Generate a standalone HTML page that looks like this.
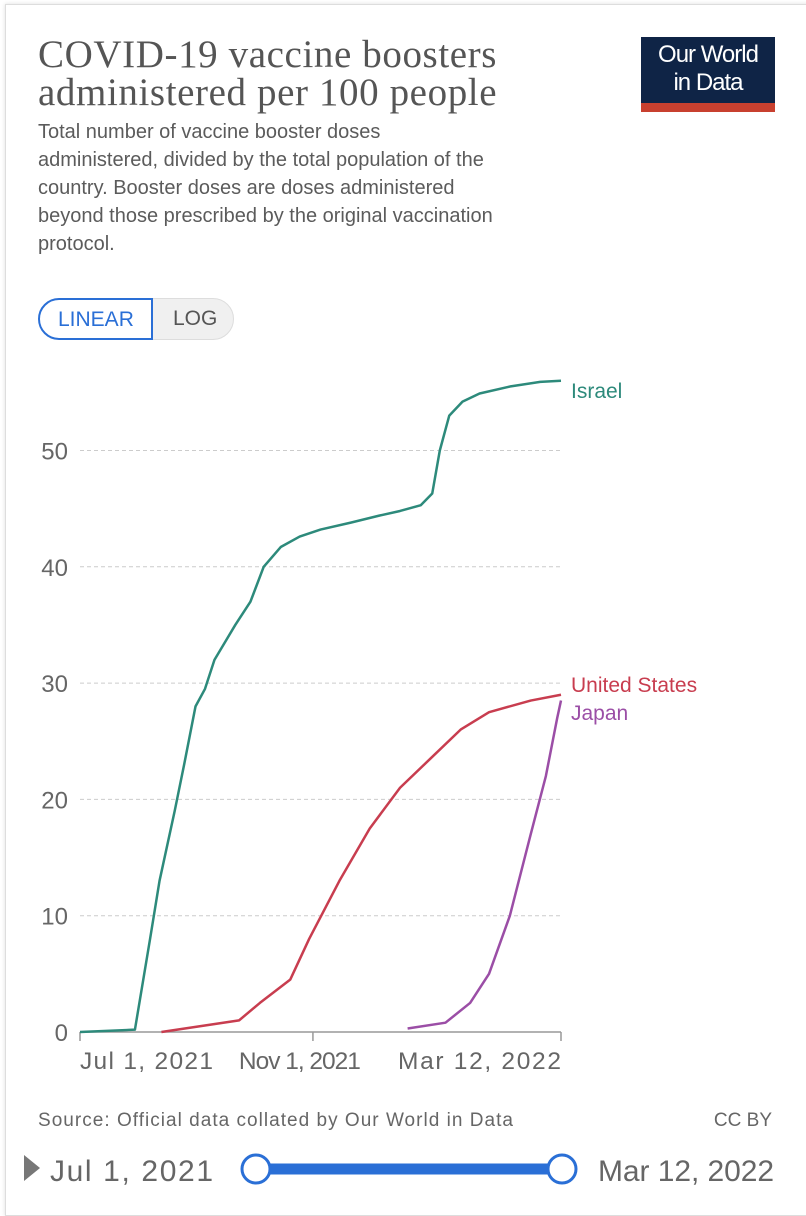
<!DOCTYPE html>
<html><head><meta charset="utf-8"><style>
body{margin:0;width:806px;height:1200px;background:#fff;font-family:"Liberation Sans",sans-serif;overflow:hidden;position:relative}
.card{position:absolute;left:5px;top:4px;width:820px;height:1210px;border:1px solid #ddd;box-shadow:0 0 4px #ddd}
.t{position:absolute;left:38px;top:36px;font-family:"Liberation Serif",serif;font-size:39px;line-height:38px;color:#555;letter-spacing:0.6px;white-space:nowrap}
.s{position:absolute;left:38px;top:118px;font-size:20px;line-height:28px;color:#5b5b5b;white-space:nowrap}
.logo{position:absolute;left:641px;top:37px;width:134px;background:#0f2446;color:#fff;font-size:24px;line-height:28px;text-align:center;padding-top:4px;box-sizing:border-box;border-bottom:9px solid #c8402f;height:75px;letter-spacing:-1px}
.tog{position:absolute;top:298px;height:42px;font-size:21px;line-height:40px;box-sizing:border-box}
</style></head><body>
<div class="card"></div>
<div class="t">COVID-19 vaccine boosters<br>administered per 100 people</div>
<div class="s">Total number of vaccine booster doses<br>administered, divided by the total population of the<br>country. Booster doses are doses administered<br>beyond those prescribed by the original vaccination<br>protocol.</div>
<div class="logo">Our World<br>in Data</div>
<div class="tog" style="left:140px;width:94px;background:#f0f0f0;border:1px solid #ddd;border-radius:0 21px 21px 0;color:#555;padding-left:32px">LOG</div>
<div class="tog" style="left:38px;width:115px;border:2px solid #2a6fd6;border-radius:21px 0 0 21px;color:#2a6fd6;background:#fff;padding-left:18px">LINEAR</div>
<svg id="c" width="806" height="1200" style="position:absolute;left:0;top:0"></svg>
<script>
const yTicks=[0,10,20,30,40,50];
const israelDays=[0,29,37,42,50,55,61,66,71,82,90,97,106,116,127,143,158,169,180,186,190,195,202,211,227,243,254];
const israelVals=[0,0.2,8,13,19,23,28,29.5,32,35,37,40,41.7,42.6,43.2,43.8,44.4,44.8,45.3,46.3,50,53,54.2,54.9,55.5,55.9,56];
const usDays=[43,84,95,111,121,137,153,169,185,201,216,238,254];
const usVals=[0,1,2.5,4.5,8,13,17.5,21,23.5,26,27.5,28.5,29];
const japanDays=[173,193,206,216,227,238,246,252,254];
const japanVals=[0.3,0.8,2.5,5,10,17,22,27,28.5];
const xTickDays=[0,123,254];
const xTickLabels=["Jul 1, 2021","Nov 1, 2021","Mar 12, 2022"];
const X=d=>80+d*481/254, Y=v=>1032-v*11.63;
const svg=document.getElementById('c'),NS="http://www.w3.org/2000/svg";
function mk(t,a,txt){const e=document.createElementNS(NS,t);for(const k in a)e.setAttribute(k,a[k]);if(txt!==undefined)e.textContent=txt;svg.appendChild(e);return e;}
yTicks.forEach(v=>{
 if(v>0){const g=mk('line',{x1:80,x2:561,y1:Y(v),y2:Y(v),stroke:'#ccc','stroke-dasharray':'4,3'});
 
 }
 const t=mk('text',{x:68,y:Y(v)+9,'text-anchor':'end','font-size':24,fill:'#666'},v);
 
 
});
const ax=mk('line',{x1:80,x2:561,y1:1032,y2:1032,stroke:'#999','stroke-width':1.5});


xTickDays.forEach((d,i)=>{
 const tk=mk('line',{x1:X(d),x2:X(d),y1:1032,y2:1041,stroke:'#999','stroke-width':1.5});
 
 
 const anc=i==0?'start':i==2?'end':'middle';
 const t=mk('text',{x:i==1?X(d)-13:X(d),y:1069,'text-anchor':anc,'font-size':24.5,fill:'#666',textLength:i==0?133:i==1?122:163},xTickLabels[i]);
 
 
});
function series(days,vals,col,name,label,ly){
 const p=mk('polyline',{points:days.map((d,i)=>X(d)+','+Y(vals[i])).join(' '),fill:'none',stroke:col,'stroke-width':2.5,'stroke-linejoin':'round'});
 
 
 const t=mk('text',{x:571,y:ly,'font-size':21,fill:col},label);
 
 
}
series(israelDays,israelVals,'#2d8a7b','israel','Israel',398);
series(usDays,usVals,'#c83d4f','united-states','United States',692);
series(japanDays,japanVals,'#9b4ea6','japan','Japan',720);
const src=mk('text',{x:38,y:1126,'font-size':19,fill:'#666',textLength:475},'Source: Official data collated by Our World in Data');


const cc=mk('text',{x:772,y:1126,'text-anchor':'end','font-size':19,fill:'#666'},'CC BY');


const play=mk('polygon',{points:'24,1155 40,1168 24,1181',fill:'#777'});


const s1=mk('text',{x:50,y:1181,'font-size':30,fill:'#666',textLength:163},'Jul 1, 2021');


const bar=mk('line',{x1:256,x2:562,y1:1169,y2:1169,stroke:'#2a6fd6','stroke-width':11});


[256,562].forEach((x,i)=>{const h=mk('circle',{cx:x,cy:1169,r:14,fill:'#fff',stroke:'#2a6fd6','stroke-width':3});
 
 });
const s2=mk('text',{x:774,y:1181,'text-anchor':'end','font-size':30,fill:'#666',textLength:176},'Mar 12, 2022');


</script>
</body></html>
